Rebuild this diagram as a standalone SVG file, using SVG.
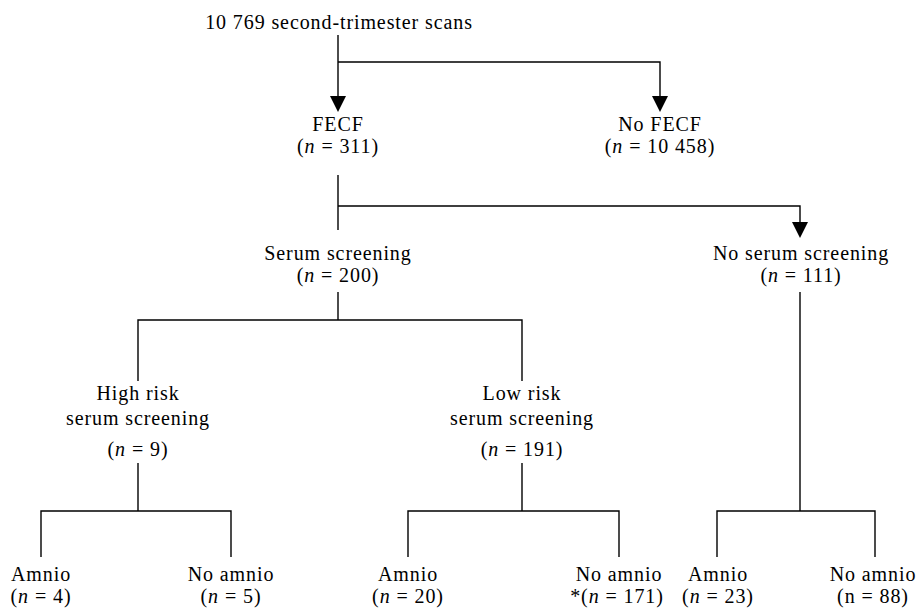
<svg xmlns="http://www.w3.org/2000/svg" width="919" height="608" viewBox="0 0 919 608">
<style>
text{font-family:"Liberation Serif","Times New Roman",serif;font-size:20px;fill:#000;text-anchor:middle;letter-spacing:0.9px}
.i{font-style:italic}
.c{fill:none;stroke:#000;stroke-width:1.4}
</style>
<defs>
<marker id="ah" markerUnits="userSpaceOnUse" markerWidth="16" markerHeight="16" viewBox="0 0 16 16" refX="4" refY="8" orient="auto">
<path d="M0,0 L16,8 L0,16 Z" fill="#000"/>
</marker>
</defs>
<rect width="919" height="608" fill="#fff"/>
<g id="connectors">
<path class="c" d="M338,35 V100" marker-end="url(#ah)"/>
<path class="c" d="M338,62 H660 V100" marker-end="url(#ah)"/>
<path class="c" d="M338,175 V230"/>
<path class="c" d="M338,206 H800 V226" marker-end="url(#ah)"/>
<path class="c" d="M338,292 V320"/>
<path class="c" d="M138,381 V320 H522 V381"/>
<path class="c" d="M138,463 V511"/>
<path class="c" d="M41,557 V511 H231 V557"/>
<path class="c" d="M522,463 V511"/>
<path class="c" d="M408,557 V511 H619 V557"/>
<path class="c" d="M800,292 V511"/>
<path class="c" d="M717,557 V511 H875 V557"/>
</g>
<g id="n-root"><text x="339" y="29">10 769 second-trimester scans</text></g>
<g id="n-fecf"><text x="338" y="131">FECF</text><text x="338" y="153">(<tspan class="i">n</tspan> = 311)</text></g>
<g id="n-nofecf"><text x="660" y="131">No FECF</text><text x="660" y="153">(<tspan class="i">n</tspan> = 10 458)</text></g>
<g id="n-serum"><text x="338" y="260">Serum screening</text><text x="338" y="282">(<tspan class="i">n</tspan> = 200)</text></g>
<g id="n-noserum"><text x="801" y="260">No serum screening</text><text x="801" y="282">(<tspan class="i">n</tspan> = 111)</text></g>
<g id="n-high"><text x="138" y="400">High risk</text><text x="138" y="425">serum screening</text><text x="138" y="456">(<tspan class="i">n</tspan> = 9)</text></g>
<g id="n-low"><text x="522" y="400">Low risk</text><text x="522" y="425">serum screening</text><text x="522" y="456">(<tspan class="i">n</tspan> = 191)</text></g>
<g id="n-a4"><text x="41" y="581">Amnio</text><text x="41" y="603">(<tspan class="i">n</tspan> = 4)</text></g>
<g id="n-na5"><text x="231" y="581">No amnio</text><text x="231" y="603">(<tspan class="i">n</tspan> = 5)</text></g>
<g id="n-a20"><text x="408" y="581">Amnio</text><text x="408" y="603">(<tspan class="i">n</tspan> = 20)</text></g>
<g id="n-na171"><text x="619" y="581">No amnio</text><text x="617" y="603">*(<tspan class="i">n</tspan> = 171)</text></g>
<g id="n-a23"><text x="718" y="581">Amnio</text><text x="718" y="603">(<tspan class="i">n</tspan> = 23)</text></g>
<g id="n-na88"><text x="873" y="581">No amnio</text><text x="873" y="603">(n = 88)</text></g>
</svg>
